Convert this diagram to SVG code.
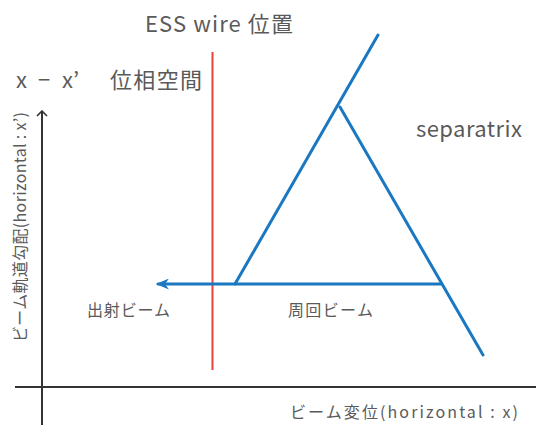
<svg xmlns="http://www.w3.org/2000/svg" width="541" height="425" viewBox="0 0 541 425">
<style>
text{font-family:"Noto Sans CJK JP","Noto Sans",sans-serif;fill:#5a5a5a}
.big{font-size:22px}
.mid{font-size:16px}
.axis{stroke:#333;stroke-width:2;fill:none}
.blue{stroke:#1a78c2;stroke-width:3;fill:none;stroke-linecap:round}
</style>
<defs>
<marker id="ah" markerWidth="13" markerHeight="11" refX="11" refY="5.5" orient="auto" markerUnits="userSpaceOnUse">
<path d="M13,5.5 L0,0 L4,5.5 L0,11 Z" fill="#1a78c2"/>
</marker>
<marker id="oa" markerWidth="12" markerHeight="12" refX="6" refY="1" orient="0" markerUnits="userSpaceOnUse">
<path d="M1,6 L6,1 L11,6" fill="none" stroke="#333" stroke-width="1.6"/>
</marker>
</defs>
<rect width="541" height="425" fill="#fff"/>
<g id="axes">
<line class="axis" x1="42" y1="111" x2="42" y2="425" marker-start="url(#oa)"/>
<line class="axis" x1="15" y1="387" x2="536" y2="387"/>
</g>
<g id="ess-wire">
<line x1="212.5" y1="52" x2="212.5" y2="370" stroke="#e8433c" stroke-width="2"/>
</g>
<g id="connectors">
<polyline class="blue" points="378,35 235,284"/>
<polyline class="blue" points="340,107 483,355"/>
<line class="blue" x1="441" y1="284" x2="158" y2="284" marker-end="url(#ah)" stroke-linecap="butt"/>
</g>
<g id="labels">
<text class="big" x="145" y="32" textLength="148" lengthAdjust="spacing">ESS wire 位置</text>
<text class="big" x="16" y="88">x</text>
<text class="big" x="38" y="88">−</text>
<text class="big" x="62" y="88">x’</text>
<text class="big" x="110" y="88" textLength="92" lengthAdjust="spacing">位相空間</text>
<text class="big" x="416" y="137" textLength="106" lengthAdjust="spacing">separatrix</text>
<text class="mid" x="87" y="316" textLength="83" lengthAdjust="spacing">出射ビーム</text>
<text class="mid" x="288" y="316" textLength="85" lengthAdjust="spacing">周回ビーム</text>
<text class="mid" x="290" y="418" textLength="228" lengthAdjust="spacing">ビーム変位(horizontal : x)</text>
<text class="mid" transform="translate(26,342) rotate(-90)" textLength="230" lengthAdjust="spacing">ビーム軌道勾配(horizontal : x’)</text>
</g>
</svg>
